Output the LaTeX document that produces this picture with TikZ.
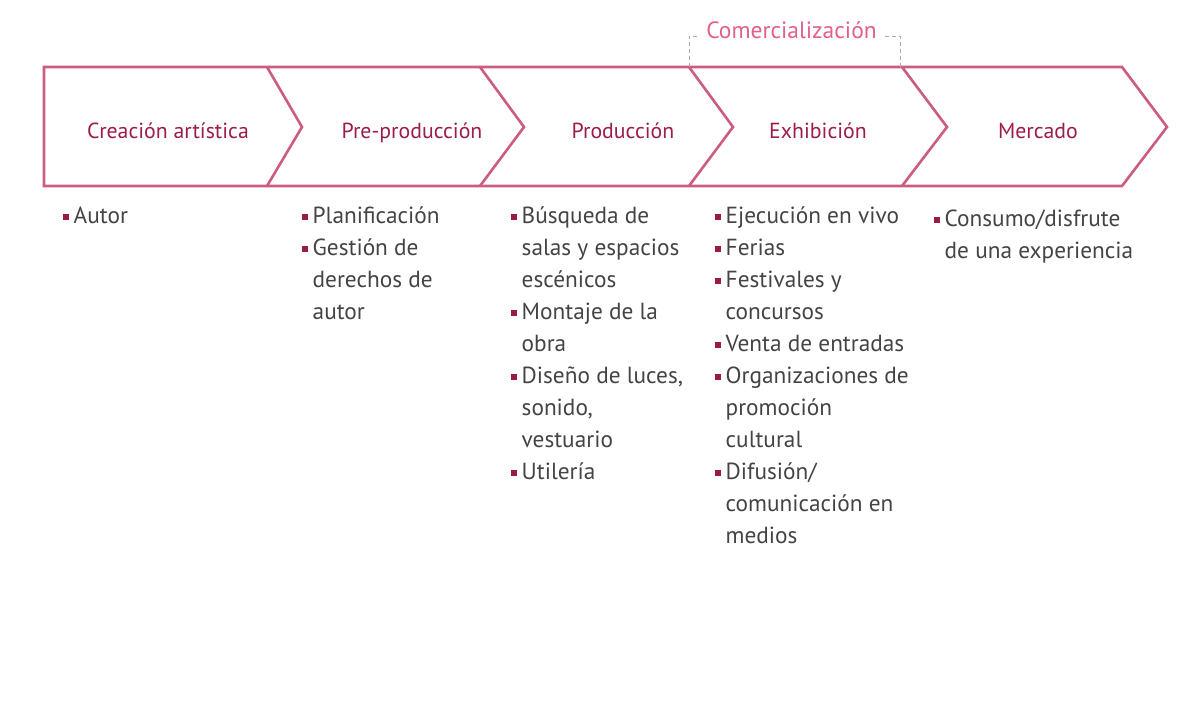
\documentclass[tikz,border=0pt]{standalone}
\usepackage{fontspec}
\setmainfont{PT Sans}
\usetikzlibrary{positioning}
\definecolor{stroke}{HTML}{CC5C80}
\definecolor{stagec}{HTML}{9C1C4B}
\definecolor{comc}{HTML}{E2608A}
\definecolor{bodyc}{HTML}{444444}
\definecolor{bulc}{HTML}{9B1B48}
\definecolor{dashc}{HTML}{AAAAAA}
\newcommand{\bitem}{\makebox[10.5pt][l]{\textcolor{bulc}{\rule[4pt]{5.5pt}{5.5pt}}}}
\newcommand{\cont}{\hspace*{10.5pt}}
\newcommand{\ilist}[1]{\parbox[t]{260pt}{\fontsize{23.3}{32}\selectfont\raggedright #1}}
\tikzset{
  stagelabel/.style={font=\fontsize{21.8}{25}\selectfont, text=stagec, anchor=base, inner sep=0pt},
  itemlist/.style={text=bodyc, anchor=base west, inner sep=0pt},
  chev/.style={draw=stroke, line width=2.6pt, line join=miter},
  bracket/.style={draw=dashc, dashed, line width=0.8pt, dash pattern=on 4pt off 3pt}
}
\begin{document}
\begin{tikzpicture}[x=1pt,y=-1pt]
\useasboundingbox[fill=white] (0,0) rectangle (1200,723);
% outline
\draw[chev] (44,67) -- (1122,67) -- (1167,127) -- (1122,186) -- (44,186) -- cycle;
\draw[chev] (267,67) -- (302,127) -- (267,186);
\draw[chev] (480,67) -- (524,127) -- (480,186);
\draw[chev] (689,67) -- (733,127) -- (689,186);
\draw[chev] (902,67) -- (947,127) -- (902,186);
% stage labels
\node[stagelabel] (s1) at (168,138) {Creación artística};
\node[stagelabel] (s2) at (412,138) {Pre-producción};
\node[stagelabel] (s3) at (623,138) {Producción};
\node[stagelabel] (s4) at (818,138) {Exhibición};
\node[stagelabel] (s5) at (1038,138) {Mercado};
% comercializacion
\node[font=\fontsize{23.5}{25}\selectfont, text=comc, anchor=base, inner sep=0pt] (com) at (791.5,38) {Comercialización};
\coordinate (cl) at (689,67);
\coordinate (cr) at (900,67);
\draw[bracket] (cl) -- (689,36) -- (697,36);
\draw[bracket] (885,36) -- (900,36) -- (cr);
% item lists
\node[itemlist] (l1) at (63,223.5) {\ilist{\bitem Autor}};
\node[itemlist] (l2) at (302,223.5) {\ilist{\bitem Planificación\\ \bitem Gestión de\\ \cont derechos de\\ \cont autor}};
\node[itemlist] (l3) at (511,223.5) {\ilist{\bitem Búsqueda de\\ \cont salas y espacios\\ \cont escénicos\\ \bitem Montaje de la\\ \cont obra\\ \bitem Diseño de luces,\\ \cont sonido,\\ \cont vestuario\\ \bitem Utilería}};
\node[itemlist] (l4) at (715,223.5) {\ilist{\bitem Ejecución en vivo\\ \bitem Ferias\\ \bitem Festivales y\\ \cont concursos\\ \bitem Venta de entradas\\ \bitem Organizaciones de\\ \cont promoción\\ \cont cultural\\ \bitem Difusión/\\ \cont comunicación en\\ \cont medios}};
\node[itemlist] (l5) at (934,226.5) {\ilist{\bitem Consumo/disfrute\\ \cont de una experiencia}};
\end{tikzpicture}
\end{document}
